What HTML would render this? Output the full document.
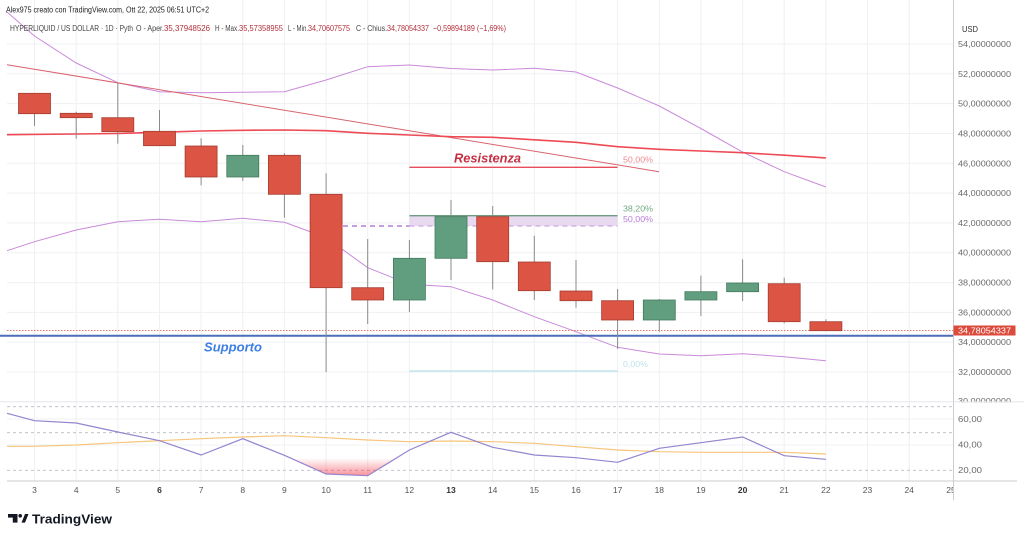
<!DOCTYPE html>
<html><head><meta charset="utf-8"><style>
html,body{margin:0;padding:0;background:#fff;}
svg{display:block;font-family:"Liberation Sans",sans-serif;}
</style></head><body>
<svg width="1024" height="539" viewBox="0 0 1024 539" xmlns="http://www.w3.org/2000/svg">
<defs>
<linearGradient id="os" x1="0" y1="458" x2="0" y2="476" gradientUnits="userSpaceOnUse">
<stop offset="0" stop-color="#f23645" stop-opacity="0"/>
<stop offset="1" stop-color="#f23645" stop-opacity="0.55"/>
</linearGradient>
</defs>
<rect width="1024" height="539" fill="#fff"/>
<!-- vertical grid -->
<g stroke="#eef0f3" stroke-width="1">
<line x1="34.5" y1="0" x2="34.5" y2="481"/><line x1="76.2" y1="0" x2="76.2" y2="481"/><line x1="117.8" y1="0" x2="117.8" y2="481"/><line x1="159.5" y1="0" x2="159.5" y2="481"/><line x1="201.1" y1="0" x2="201.1" y2="481"/><line x1="242.8" y1="0" x2="242.8" y2="481"/><line x1="284.4" y1="0" x2="284.4" y2="481"/><line x1="326.1" y1="0" x2="326.1" y2="481"/><line x1="367.7" y1="0" x2="367.7" y2="481"/><line x1="409.4" y1="0" x2="409.4" y2="481"/><line x1="451" y1="0" x2="451" y2="481"/><line x1="492.7" y1="0" x2="492.7" y2="481"/><line x1="534.3" y1="0" x2="534.3" y2="481"/><line x1="576" y1="0" x2="576" y2="481"/><line x1="617.6" y1="0" x2="617.6" y2="481"/><line x1="659.3" y1="0" x2="659.3" y2="481"/><line x1="700.9" y1="0" x2="700.9" y2="481"/><line x1="742.6" y1="0" x2="742.6" y2="481"/><line x1="784.2" y1="0" x2="784.2" y2="481"/><line x1="825.9" y1="0" x2="825.9" y2="481"/><line x1="867.5" y1="0" x2="867.5" y2="481"/><line x1="909.2" y1="0" x2="909.2" y2="481"/>
</g>
<!-- horizontal grid main -->
<g stroke="#eef0f3" stroke-width="1">
<line x1="7" y1="44" x2="953" y2="44"/><line x1="7" y1="73.8" x2="953" y2="73.8"/><line x1="7" y1="103.6" x2="953" y2="103.6"/><line x1="7" y1="133.5" x2="953" y2="133.5"/><line x1="7" y1="163.3" x2="953" y2="163.3"/><line x1="7" y1="193.1" x2="953" y2="193.1"/><line x1="7" y1="222.9" x2="953" y2="222.9"/><line x1="7" y1="252.7" x2="953" y2="252.7"/><line x1="7" y1="282.6" x2="953" y2="282.6"/><line x1="7" y1="312.4" x2="953" y2="312.4"/><line x1="7" y1="342.2" x2="953" y2="342.2"/><line x1="7" y1="372" x2="953" y2="372"/>
</g>
<!-- pane separator -->
<line x1="0" y1="401.8" x2="953" y2="401.8" stroke="#e4e6ea" stroke-width="1"/>
<!-- RSI grid -->
<line x1="7" y1="419" x2="953" y2="419" stroke="#eef0f3"/>
<line x1="7" y1="445" x2="953" y2="445" stroke="#eef0f3"/>
<g stroke="#b8bcc4" stroke-width="0.9" stroke-dasharray="3,3">
<line x1="7" y1="406.7" x2="953" y2="406.7"/>
<line x1="7" y1="432.7" x2="953" y2="432.7"/>
<line x1="7" y1="470.3" x2="953" y2="470.3"/>
</g>

<!-- Bollinger bands -->
<polyline fill="none" stroke="#c98ad9" stroke-width="1" points="7,12 34.5,36 76.2,63 117.8,82.7 159.5,91.7 201.1,92.7 242.8,92.3 284.4,91.7 326.1,80 367.7,66.7 409.4,65 451,68.5 492.7,70 534.3,68.3 576,72 617.6,88 659.3,106 700.9,128.5 742.6,152 784.2,171.7 825.9,187"/>
<polyline fill="none" stroke="#c98ad9" stroke-width="1" points="7,250.7 34.5,241.7 76.2,230 117.8,221.7 159.5,219.3 201.1,221.7 242.8,218.3 284.4,222.3 326.1,237.5 367.7,267.7 409.4,284.3 451,286.7 492.7,300 534.3,316.7 576,331.7 617.6,347.3 659.3,354 700.9,355.7 742.6,353.7 784.2,356.7 825.9,360.7"/>
<!-- trend line -->
<line x1="7" y1="64.7" x2="659" y2="171.7" stroke="#d8636e" stroke-width="1"/>
<!-- MA -->
<polyline fill="none" stroke="#ee4a55" stroke-width="1.6" points="7,134.7 76.2,134 117.8,133.5 159.5,132.3 201.1,131 242.8,130.3 284.4,130 326.1,130.7 367.7,133.3 409.4,135 451,136.7 492.7,137.3 534.3,139.8 576,142.3 617.6,146.7 659.3,149.3 700.9,151 742.6,152.7 784.2,155.2 825.9,157.9"/>

<!-- fib drawing -->
<rect x="409.4" y="215.7" width="208.2" height="10.3" fill="#e8d9f0"/>
<line x1="409.4" y1="215.7" x2="617.6" y2="215.7" stroke="#6f9c82" stroke-width="1.3"/>
<line x1="343" y1="226" x2="409.4" y2="226" stroke="#a863d0" stroke-width="1.2" stroke-dasharray="5,4"/>
<line x1="409.4" y1="226" x2="617.6" y2="226" stroke="#cda6e0" stroke-width="1.2" stroke-dasharray="5,4"/>
<line x1="409.4" y1="167.3" x2="617.6" y2="167.3" stroke="#e64c5a" stroke-width="1.3"/>
<line x1="409.4" y1="371" x2="617.6" y2="371" stroke="#a9dde9" stroke-width="1"/>
<text x="623" y="162.5" font-size="8.5" fill="#f08a93" textLength="30" lengthAdjust="spacingAndGlyphs">50,00%</text>
<text x="623" y="211.3" font-size="8.5" fill="#6faa7f" textLength="30" lengthAdjust="spacingAndGlyphs">38,20%</text>
<text x="623" y="221.8" font-size="8.5" fill="#b97dd6" textLength="30" lengthAdjust="spacingAndGlyphs">50,00%</text>
<text x="623" y="367" font-size="8.5" fill="#bde3ec" textLength="25" lengthAdjust="spacingAndGlyphs">0,00%</text>
<text x="454" y="162.3" font-size="13" font-weight="bold" font-style="italic" fill="#c62f42" textLength="67" lengthAdjust="spacingAndGlyphs">Resistenza</text>

<!-- support & price line -->
<line x1="7" y1="330.5" x2="953" y2="330.5" stroke="#e57a6e" stroke-width="0.9" stroke-dasharray="1.5,1.5"/>
<line x1="0" y1="335.8" x2="953" y2="335.8" stroke="#4a6fb8" stroke-width="2"/>
<text x="204" y="351.3" font-size="13" font-weight="bold" font-style="italic" fill="#3d7fe6" textLength="58" lengthAdjust="spacingAndGlyphs">Supporto</text>

<!-- candles -->
<g stroke="#8a8a8a" stroke-width="1">
<line x1="34.5" y1="93.3" x2="34.5" y2="126"/>
<line x1="76.2" y1="111.7" x2="76.2" y2="138.7"/>
<line x1="117.8" y1="82.7" x2="117.8" y2="143.7"/>
<line x1="159.5" y1="110" x2="159.5" y2="145.7"/>
<line x1="201.1" y1="138.3" x2="201.1" y2="185.3"/>
<line x1="242.8" y1="145" x2="242.8" y2="181"/>
<line x1="284.4" y1="153.3" x2="284.4" y2="217.7"/>
<line x1="326.1" y1="173.3" x2="326.1" y2="372"/>
<line x1="367.7" y1="239" x2="367.7" y2="324"/>
<line x1="409.4" y1="240" x2="409.4" y2="312"/>
<line x1="451" y1="200" x2="451" y2="280"/>
<line x1="492.7" y1="206" x2="492.7" y2="289.3"/>
<line x1="534.3" y1="235.7" x2="534.3" y2="300"/>
<line x1="576" y1="260" x2="576" y2="307.7"/>
<line x1="617.6" y1="289" x2="617.6" y2="349"/>
<line x1="659.3" y1="299" x2="659.3" y2="331.7"/>
<line x1="700.9" y1="275.7" x2="700.9" y2="316"/>
<line x1="742.6" y1="259.3" x2="742.6" y2="301"/>
<line x1="784.2" y1="277.7" x2="784.2" y2="323.3"/>
<line x1="825.9" y1="319.3" x2="825.9" y2="330.7"/>
</g>
<g fill="#dc5443" stroke="#a43d30" stroke-width="0.8">
<rect x="18.5" y="93.3" width="32" height="20.4"/>
<rect x="60.2" y="113.3" width="32" height="4.4"/>
<rect x="101.8" y="117.7" width="32" height="14"/>
<rect x="143.5" y="131.3" width="32" height="14.4"/>
<rect x="185.1" y="146" width="32" height="31"/>
<rect x="268.4" y="155.3" width="32" height="39"/>
<rect x="310.1" y="194.3" width="32" height="93.4"/>
<rect x="351.7" y="287.7" width="32" height="12.3"/>
<rect x="476.7" y="216.7" width="32" height="45"/>
<rect x="518.3" y="262" width="32" height="28.7"/>
<rect x="560" y="291" width="32" height="9.7"/>
<rect x="601.6" y="300.7" width="32" height="19.3"/>
<rect x="768.2" y="283.7" width="32" height="38"/>
<rect x="809.9" y="321.7" width="32" height="9"/>
</g>
<g fill="#609e7f" stroke="#437a5d" stroke-width="0.8">
<rect x="226.8" y="155.3" width="32" height="21.7"/>
<rect x="393.4" y="258.3" width="32" height="41.7"/>
<rect x="435" y="216.7" width="32" height="41.6"/>
<rect x="643.3" y="300" width="32" height="20"/>
<rect x="684.9" y="291.7" width="32" height="8.3"/>
<rect x="726.6" y="283" width="32" height="8.7"/>
</g>

<!-- RSI -->
<polygon points="290,458 326.1,474 367.7,475.7 397,458" fill="url(#os)"/>
<polyline fill="none" stroke="#f7c57a" stroke-width="1.2" points="7,446.3 34.5,446.3 76.2,445 117.8,442.7 159.5,440.7 201.1,438.7 242.8,437 284.4,435.7 326.1,437.7 367.7,440 409.4,441.7 451,441 492.7,441.7 534.3,443.3 576,446.7 617.6,450 659.3,451.7 700.9,452.3 742.6,452.3 784.2,452.3 825.9,454"/>
<polyline fill="none" stroke="#9584cf" stroke-width="1.2" points="7,413.3 34.5,420.7 76.2,423 117.8,432 159.5,440.7 201.1,455 242.8,438.7 284.4,455.3 326.1,474 367.7,475.7 409.4,450 451,432.3 492.7,447.3 534.3,455 576,457.7 617.6,462.3 659.3,448.3 700.9,442.7 742.6,437 784.2,455.7 825.9,459.3"/>

<!-- x axis labels -->
<g font-size="8.5" fill="#555" text-anchor="middle">
<text x="34.5" y="493">3</text><text x="76.2" y="493">4</text><text x="117.8" y="493">5</text><text x="159.5" y="493" font-weight="bold" fill="#333">6</text><text x="201.1" y="493">7</text><text x="242.8" y="493">8</text><text x="284.4" y="493">9</text><text x="326.1" y="493">10</text><text x="367.7" y="493">11</text><text x="409.4" y="493">12</text><text x="451" y="493" font-weight="bold" fill="#333">13</text><text x="492.7" y="493">14</text><text x="534.3" y="493">15</text><text x="576" y="493">16</text><text x="617.6" y="493">17</text><text x="659.3" y="493">18</text><text x="700.9" y="493">19</text><text x="742.6" y="493" font-weight="bold" fill="#333">20</text><text x="784.2" y="493">21</text><text x="825.9" y="493">22</text><text x="867.5" y="493">23</text><text x="909.2" y="493">24</text><text x="951" y="493">25</text>
</g>

<!-- right axis -->
<rect x="954" y="0" width="70" height="500" fill="#fff"/>
<line x1="953.5" y1="0" x2="953.5" y2="500" stroke="#c9ccd1" stroke-width="1"/>
<line x1="7" y1="481" x2="1017" y2="481" stroke="#c9ccd1" stroke-width="1"/>
<text x="962" y="32" font-size="8" fill="#333" textLength="16" lengthAdjust="spacingAndGlyphs">USD</text>
<g font-size="8.5" fill="#6b6b6b">
<text x="958" y="47" textLength="53" lengthAdjust="spacingAndGlyphs">54,00000000</text>
<text x="958" y="76.8" textLength="53" lengthAdjust="spacingAndGlyphs">52,00000000</text>
<text x="958" y="106.6" textLength="53" lengthAdjust="spacingAndGlyphs">50,00000000</text>
<text x="958" y="136.5" textLength="53" lengthAdjust="spacingAndGlyphs">48,00000000</text>
<text x="958" y="166.3" textLength="53" lengthAdjust="spacingAndGlyphs">46,00000000</text>
<text x="958" y="196.1" textLength="53" lengthAdjust="spacingAndGlyphs">44,00000000</text>
<text x="958" y="225.9" textLength="53" lengthAdjust="spacingAndGlyphs">42,00000000</text>
<text x="958" y="255.7" textLength="53" lengthAdjust="spacingAndGlyphs">40,00000000</text>
<text x="958" y="285.6" textLength="53" lengthAdjust="spacingAndGlyphs">38,00000000</text>
<text x="958" y="315.4" textLength="53" lengthAdjust="spacingAndGlyphs">36,00000000</text>
<text x="958" y="345.2" textLength="53" lengthAdjust="spacingAndGlyphs">34,00000000</text>
<text x="958" y="375" textLength="53" lengthAdjust="spacingAndGlyphs">32,00000000</text>
<text x="958" y="404" textLength="53" lengthAdjust="spacingAndGlyphs">30,00000000</text>
</g>
<rect x="954" y="402.5" width="70" height="78" fill="#fff"/>
<line x1="953.5" y1="401.8" x2="1024" y2="401.8" stroke="#e4e6ea"/>
<g font-size="8.5" fill="#6b6b6b">
<text x="958" y="422" textLength="24" lengthAdjust="spacingAndGlyphs">60,00</text>
<text x="958" y="447.5" textLength="24" lengthAdjust="spacingAndGlyphs">40,00</text>
<text x="958" y="473" textLength="24" lengthAdjust="spacingAndGlyphs">20,00</text>
</g>
<rect x="953.5" y="325.5" width="62" height="10" fill="#dc4a3c"/>
<text x="958" y="333.6" font-size="8.5" fill="#fff" textLength="53" lengthAdjust="spacingAndGlyphs">34,78054337</text>

<!-- header -->
<text x="6" y="12.5" font-size="8" fill="#222" textLength="203" lengthAdjust="spacingAndGlyphs">Alex975 creato con TradingView.com, Ott 22, 2025 06:51 UTC+2</text>
<g font-size="8" fill="#444">
<text x="10" y="31" textLength="123" lengthAdjust="spacingAndGlyphs">HYPERLIQUID / US DOLLAR · 1D · Pyth</text>
<text x="136" y="31" textLength="28" lengthAdjust="spacingAndGlyphs">O - Aper.</text>
<text x="164" y="31" fill="#b3303b" textLength="46" lengthAdjust="spacingAndGlyphs">35,37948526</text>
<text x="215" y="31" textLength="24" lengthAdjust="spacingAndGlyphs">H - Max.</text>
<text x="239" y="31" fill="#b3303b" textLength="44" lengthAdjust="spacingAndGlyphs">35,57358955</text>
<text x="288" y="31" textLength="20" lengthAdjust="spacingAndGlyphs">L - Min.</text>
<text x="308" y="31" fill="#b3303b" textLength="42" lengthAdjust="spacingAndGlyphs">34,70607575</text>
<text x="356" y="31" textLength="31" lengthAdjust="spacingAndGlyphs">C - Chius.</text>
<text x="387" y="31" fill="#b3303b" textLength="42" lengthAdjust="spacingAndGlyphs">34,78054337</text>
<text x="433" y="31" fill="#b3303b" textLength="73" lengthAdjust="spacingAndGlyphs">−0,59894189 (−1,69%)</text>
</g>

<!-- logo -->
<g fill="#131722">
<rect x="8" y="514" width="9.5" height="3.6"/>
<rect x="12.8" y="514" width="4.7" height="8.6"/>
<circle cx="20.2" cy="515.8" r="1.8"/>
<polygon points="21.5,522.6 25,514 28.5,514 25,522.6"/>
</g>
<text x="32" y="523.5" font-size="13" font-weight="bold" fill="#131722" textLength="80" lengthAdjust="spacingAndGlyphs">TradingView</text>
</svg>
</body></html>
